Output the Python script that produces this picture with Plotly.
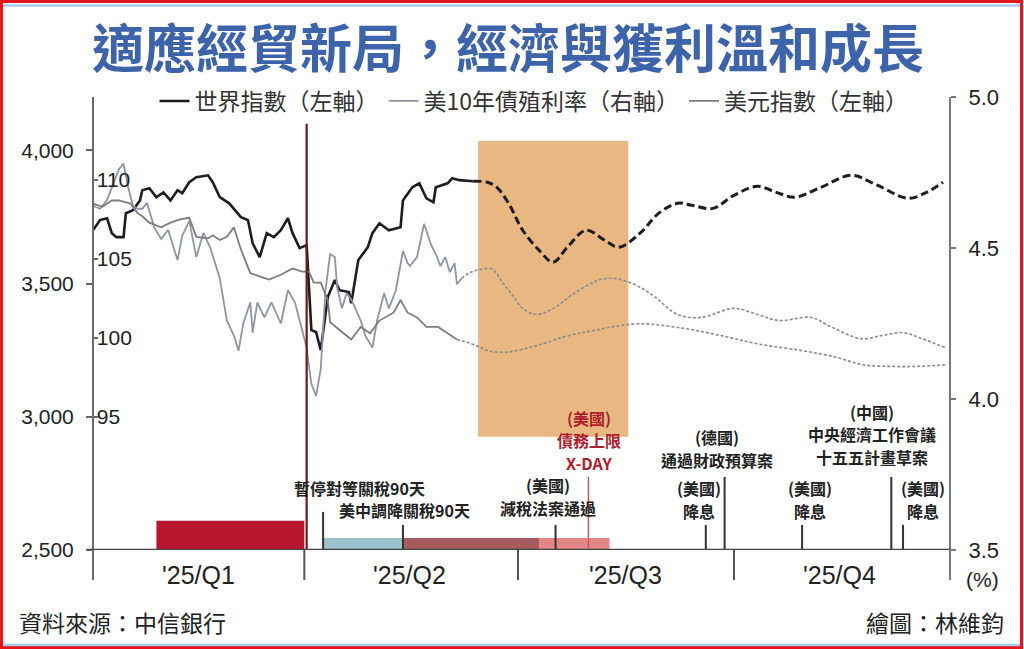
import pandas as pd
import plotly.graph_objects as go

START = pd.Timestamp("2025-01-01")
CJK = "Noto Sans CJK TC"
NUM = "Liberation Sans, Arial, sans-serif"

# ---------------- data (days since 2025-01-01) ----------------
world_hist_day = [0, 3, 6, 8, 10, 13, 14, 17, 20, 21, 24, 27, 30, 33, 36, 38, 41, 44, 49, 51,
                  54, 58, 63, 66, 68, 71, 74, 77, 80, 83, 85, 88, 91, 93, 95, 97, 100, 103, 105, 109,
                  110, 113, 117, 119, 122, 126, 131, 132, 136, 139, 142, 145, 146, 151, 153, 156, 162]
world_hist_val = [3700, 3738, 3745, 3689, 3674, 3674, 3764, 3775, 3812, 3850, 3858, 3824, 3842, 3812,
                  3850, 3839, 3880, 3899, 3906, 3880, 3824, 3801, 3749, 3738, 3651, 3599, 3689, 3674,
                  3700, 3745, 3689, 3633, 3644, 3325, 3318, 3250, 3449, 3513, 3475, 3468, 3426, 3588,
                  3636, 3689, 3726, 3700, 3711, 3812, 3861, 3876, 3820, 3805, 3861, 3876, 3895, 3888, 3884]
world_fcst_day = [162, 168, 172, 177, 183, 190, 196, 202, 210, 218, 224, 233, 241, 249, 255, 264,
                  273, 283, 291, 299, 310, 323, 334, 347, 355, 362]
world_fcst_val = [3884, 3880, 3861, 3801, 3700, 3625, 3580, 3636, 3700, 3662, 3636, 3689, 3764, 3801,
                  3794, 3782, 3831, 3865, 3842, 3824, 3861, 3906, 3869, 3820, 3842, 3880]

yield_hist_day = [0, 3, 6, 8, 11, 13, 15, 17, 19, 21, 23, 26, 29, 32, 36, 38, 41, 44, 47, 50,
                  54, 57, 60, 62, 64, 67, 68, 70, 73, 76, 80, 83, 86, 89, 91, 93, 95, 97, 99, 101,
                  103, 104, 106, 108, 110, 114, 116, 119, 121, 124, 126, 129, 132, 134, 135, 138, 141,
                  144, 146, 148, 150, 152, 154, 155, 157]
yield_hist_val = [4.64, 4.63, 4.66, 4.70, 4.76, 4.78, 4.70, 4.64, 4.63, 4.63, 4.65, 4.57, 4.53, 4.56,
                  4.46, 4.54, 4.59, 4.47, 4.55, 4.50, 4.40, 4.26, 4.21, 4.16, 4.25, 4.32, 4.22, 4.32,
                  4.27, 4.32, 4.25, 4.36, 4.32, 4.23, 4.17, 4.05, 4.01, 4.10, 4.36, 4.48, 4.47, 4.37,
                  4.30, 4.35, 4.33, 4.26, 4.21, 4.17, 4.26, 4.35, 4.30, 4.36, 4.49, 4.45, 4.44, 4.47,
                  4.58, 4.51, 4.48, 4.44, 4.47, 4.42, 4.45, 4.38, 4.40]
yield_fcst_day = [157, 161, 166, 170, 175, 179, 183, 189, 196, 205, 214, 221, 227, 233, 239, 249,
                  259, 273, 283, 292, 306, 314, 327, 336, 345, 353, 363]
yield_fcst_val = [4.40, 4.42, 4.43, 4.43, 4.38, 4.34, 4.30, 4.28, 4.30, 4.35, 4.39, 4.40, 4.39, 4.37,
                  4.34, 4.28, 4.27, 4.30, 4.28, 4.26, 4.27, 4.24, 4.20, 4.21, 4.22, 4.20, 4.17]

usd_hist_day = [0, 4, 8, 11, 16, 19, 21, 24, 29, 33, 37, 41, 44, 49, 51, 54, 57, 60, 63, 67,
                71, 75, 80, 85, 89, 92, 94, 97, 100, 101, 105, 110, 114, 118, 122, 128, 131, 134,
                138, 142, 147, 151, 153, 155]
usd_hist_val = [108.5, 108.3, 108.7, 108.7, 108.5, 107.9, 107.7, 107.3, 107.0, 107.3, 107.5, 107.6,
                106.4, 106.3, 106.5, 106.2, 106.4, 107.0, 105.6, 104.1, 103.9, 103.7, 104.0, 104.4,
                104.2, 104.2, 103.5, 103.5, 102.4, 101.0, 100.5, 99.9, 100.7, 100.3, 101.1, 101.6,
                102.4, 101.6, 101.3, 100.7, 100.7, 100.3, 100.1, 99.9]
usd_fcst_day = [155, 160, 165, 168, 176, 186, 193, 199, 207, 211, 221, 233, 252, 269, 284, 302,
                316, 328, 339, 351, 363]
usd_fcst_val = [99.9, 99.7, 99.4, 99.2, 99.1, 99.4, 99.7, 100.0, 100.3, 100.4, 100.7, 100.9, 100.6,
                100.1, 99.6, 99.2, 98.8, 98.3, 98.2, 98.2, 98.3]

series_names = ["世界指數（左軸）", "美10年債殖利率（右軸）", "美元指數（左軸）"]

left_ticks = [2500, 3000, 3500, 4000]
right_ticks = [3.5, 4.0, 4.5, 5.0]
usd_ticks = [95, 100, 105, 110]

quarter_bounds = ["2025-04-01", "2025-07-01", "2025-10-01"]
quarter_mid = ["2025-02-15", "2025-05-16", "2025-08-16", "2025-11-15"]
quarter_labels = ["'25/Q1", "'25/Q2", "'25/Q3", "'25/Q4"]

tariff_day = "2025-04-02"
window_start, window_end = "2025-06-14", "2025-08-17"

period_start = ["2025-01-28", "2025-04-09", "2025-05-13", "2025-07-10"]
period_end = ["2025-04-01", "2025-05-13", "2025-07-10", "2025-08-09"]

event_dates = ["2025-04-09", "2025-05-13", "2025-07-17", "2025-07-31", "2025-09-19",
               "2025-09-27", "2025-10-30", "2025-12-07", "2025-12-12"]
event_labels = [["暫停對等關稅90天"], ["美中調降關稅90天"], ["(美國)", "減稅法案通過"],
                ["(美國)", "債務上限", "X-DAY"], ["(美國)", "降息"], ["(德國)", "通過財政預算案"],
                ["(美國)", "降息"], ["(中國)", "中央經濟工作會議", "十五五計畫草案"], ["(美國)", "降息"]]

# ---------------- styling / positions ----------------
period_top = [2610, 2545, 2545, 2545]
period_color = ["#b8162f", "#9dc4cc", "#a65c5e", "#e38686"]
event_top = [2643, 2594, 2594, 2774, 2594, 2774, 2594, 2774, 2594]
event_xshift = [36, 2, -8, 1, -7, -8, 8, -19, 20]
event_yshift = [11, 2, 4, 1, 1, 4, 1, 7, 1]
LINE_STEP = 22.5
event_color = ["#333333"] * 9
event_color[3] = "#c85a64"
label_color = ["#222222"] * 9
label_color[3] = "#b0202c"


def to_dates(days):
    return START + pd.to_timedelta(days, unit="D")


fig = go.Figure()

GRAY_Y = "#8e95a3"
GRAY_D = "#7d7d7d"
GRAY_F = "#8a8a8a"

fig.add_trace(go.Scatter(x=to_dates(usd_hist_day), y=usd_hist_val, yaxis="y3", mode="lines",
                         name=series_names[2], legendrank=3,
                         line=dict(color=GRAY_D, width=1.8)))
fig.add_trace(go.Scatter(x=to_dates(usd_fcst_day), y=usd_fcst_val, yaxis="y3", mode="lines",
                         showlegend=False,
                         line=dict(color=GRAY_F, width=1.6, dash="3px,2px", shape="spline")))
fig.add_trace(go.Scatter(x=to_dates(yield_hist_day), y=yield_hist_val, yaxis="y2", mode="lines",
                         name=series_names[1], legendrank=2,
                         line=dict(color=GRAY_Y, width=1.8)))
fig.add_trace(go.Scatter(x=to_dates(yield_fcst_day), y=yield_fcst_val, yaxis="y2", mode="lines",
                         showlegend=False,
                         line=dict(color=GRAY_F, width=1.6, dash="3px,2px", shape="spline")))
fig.add_trace(go.Scatter(x=to_dates(world_hist_day), y=world_hist_val, yaxis="y", mode="lines",
                         name=series_names[0], legendrank=1,
                         line=dict(color="#1c1c22", width=2.6)))
fig.add_trace(go.Scatter(x=to_dates(world_fcst_day), y=world_fcst_val, yaxis="y", mode="lines",
                         showlegend=False,
                         line=dict(color="#1c1c22", width=3, dash="8px,4px", shape="spline")))

shapes = []
# orange window
shapes.append(dict(type="rect", xref="x", yref="y", x0=window_start, x1=window_end,
                   y0=2925, y1=4035, fillcolor="#e9b882", line=dict(width=0), layer="below"))
# period bars
for s, e, t, c in zip(period_start, period_end, period_top, period_color):
    shapes.append(dict(type="rect", xref="x", yref="y", x0=s, x1=e, y0=2500, y1=t,
                       fillcolor=c, line=dict(width=0), layer="below"))
# tariff day line
shapes.append(dict(type="line", xref="x", yref="y", x0=tariff_day, x1=tariff_day,
                   y0=2500, y1=4100, line=dict(color="#6e1818", width=2.2)))
# event lines
for d, t, c in zip(event_dates, event_top, event_color):
    shapes.append(dict(type="line", xref="x", yref="y", x0=d, x1=d, y0=2500, y1=t,
                       line=dict(color=c, width=2 if c == "#333333" else 1.5)))
# axis lines (extend below baseline)
BELOW = -30 / 453
shapes.append(dict(type="line", xref="x domain", yref="paper", x0=0, x1=0, y0=BELOW, y1=1,
                   line=dict(color="#6a6a6a", width=2)))
shapes.append(dict(type="line", xref="x domain", yref="paper", x0=1, x1=1, y0=BELOW, y1=1,
                   line=dict(color="#7a7a7a", width=2)))
for q in quarter_bounds:
    shapes.append(dict(type="line", xref="x", yref="paper", x0=q, x1=q, y0=BELOW, y1=0,
                       line=dict(color="#555555", width=2)))
# baseline
shapes.append(dict(type="line", xref="x domain", yref="y", x0=-0.007, x1=1, y0=2500, y1=2500,
                   line=dict(color="#444444", width=2.5)))
# frame decorations
PX = lambda px: (px - 93) / 857
PY = lambda py: (550 - py) / 453
shapes.append(dict(type="rect", xref="paper", yref="paper", x0=PX(1.5), x1=PX(1021.5),
                   y0=PY(647.5), y1=PY(1.5), line=dict(color="#e8141c", width=3)))
for yy in (5.5, 645):
    shapes.append(dict(type="line", xref="paper", yref="paper", x0=PX(3), x1=PX(1020),
                       y0=PY(yy), y1=PY(yy), line=dict(color="#a8cde8", width=2.5)))

annotations = []
for d, lines, t, xs, ys, col in zip(event_dates, event_labels, event_top, event_xshift,
                                    event_yshift, label_color):
    for i, txt in enumerate(reversed(lines)):
        annotations.append(dict(x=d, y=t, xref="x", yref="y", text=txt, showarrow=False,
                                xanchor="center", yanchor="bottom", xshift=xs,
                                yshift=ys + i * LINE_STEP, borderpad=0,
                                font=dict(family=CJK, size=16, color=col, weight="bold")))
for d, lab in zip(quarter_mid, quarter_labels):
    annotations.append(dict(x=d, y=PY(575), xref="x", yref="paper", text=lab, showarrow=False,
                            xanchor="center", yanchor="middle",
                            font=dict(family=NUM, size=25, color="#222222")))
annotations.append(dict(x=PX(982), y=PY(579), xref="paper", yref="paper", text="(%)",
                        showarrow=False, xanchor="center", yanchor="middle",
                        font=dict(family=NUM, size=21, color="#222222")))
annotations.append(dict(x=PX(17), y=PY(622), xref="paper", yref="paper", text="資料來源：中信銀行",
                        showarrow=False, xanchor="left", yanchor="middle",
                        font=dict(family=CJK, size=23, color="#222222")))
annotations.append(dict(x=PX(1006), y=PY(622), xref="paper", yref="paper", text="繪圖：林維鈞",
                        showarrow=False, xanchor="right", yanchor="middle",
                        font=dict(family=CJK, size=23, color="#222222")))

tickfont = dict(family=NUM, size=21, color="#222222")

fig.update_layout(
    width=1024, height=649,
    margin=dict(l=93, r=74, t=97, b=99),
    paper_bgcolor="white", plot_bgcolor="white",
    title=dict(text="適應經貿新局，經濟與獲利溫和成長", x=508 / 1024, xanchor="center",
               y=1 - 50 / 649, yanchor="middle", yref="container",
               font=dict(family=CJK, size=52, color="#3d64aa", weight="bold")),
    showlegend=True,
    legend=dict(orientation="h", x=PX(534), xanchor="center", y=PY(101), yanchor="middle",
                font=dict(family=CJK, size=23, color="#333333"), itemwidth=30,
                bgcolor="rgba(0,0,0,0)", traceorder="normal"),
    xaxis=dict(type="date", range=["2025-01-01", "2026-01-01"], showticklabels=False,
               showgrid=False, zeroline=False, showline=False, ticks=""),
    yaxis=dict(range=[2500, 4200], tickvals=left_ticks, tickformat=",", ticks="outside",
               ticklen=6, tickwidth=2, tickcolor="#666666", showgrid=False, zeroline=False,
               showline=False, tickfont=tickfont, ticklabelstandoff=8),
    yaxis2=dict(overlaying="y", side="right", anchor="x", range=[3.5, 5.0], tickvals=right_ticks,
                tickformat=".1f", ticks="outside", ticklen=5, tickwidth=2, tickcolor="#777777",
                showgrid=False, zeroline=False, showline=False,
                tickfont=dict(family=NUM, size=22, color="#222222"), ticklabelstandoff=8),
    yaxis3=dict(overlaying="y", side="left", anchor="x", range=[86.58, 115.25], tickvals=usd_ticks,
                ticks="inside", ticklen=5, tickwidth=2, tickcolor="#666666",
                ticklabelposition="inside", showgrid=False, zeroline=False, showline=False,
                tickfont=tickfont),
    shapes=shapes,
    annotations=annotations,
)

fig.write_html("out.html", config={"displayModeBar": False},
               post_script="document.body.style.margin='0';")
